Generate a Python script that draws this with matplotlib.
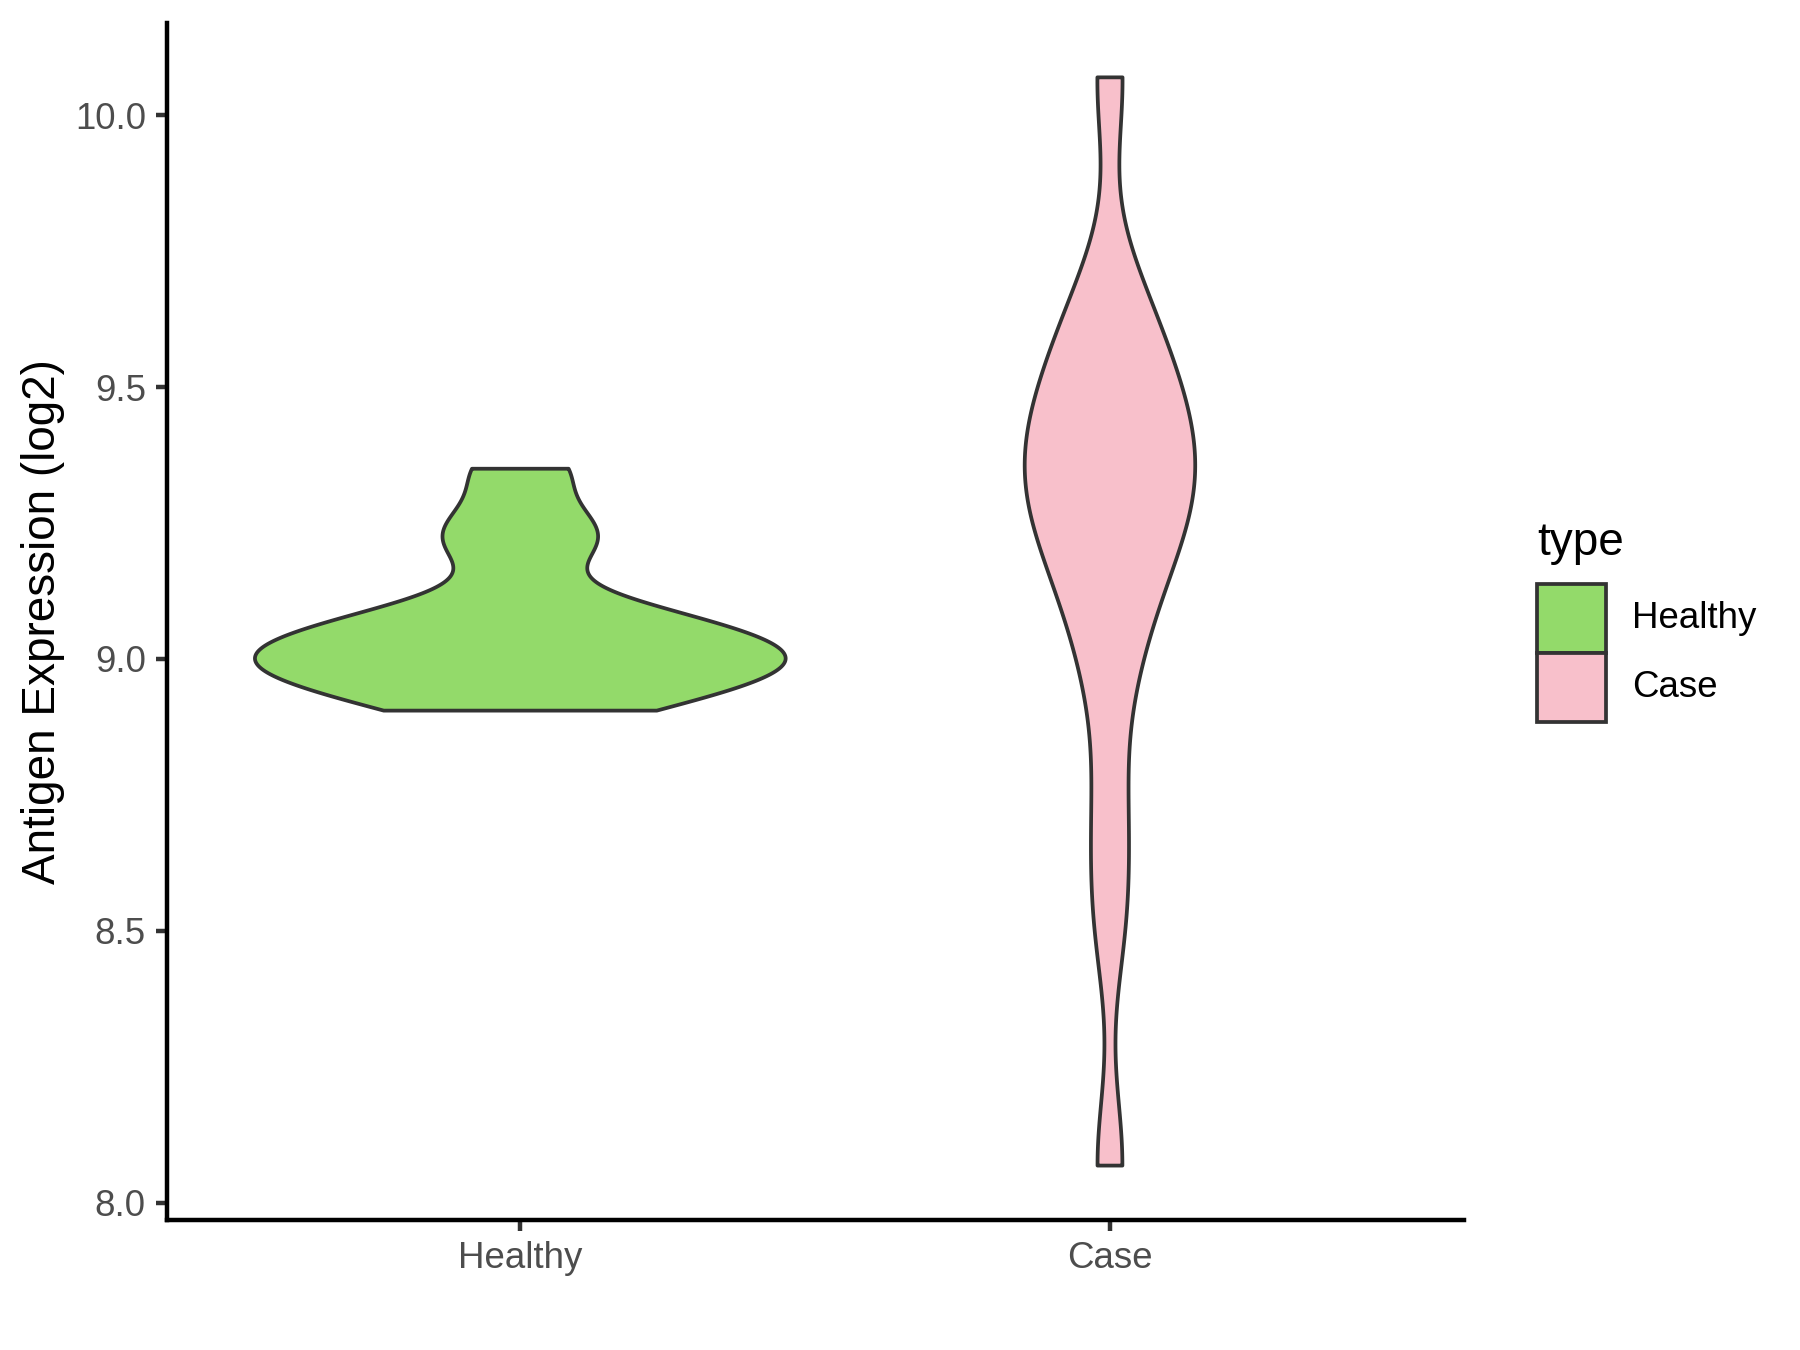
import numpy as np
import matplotlib
matplotlib.use("Agg")
import matplotlib.pyplot as plt
from matplotlib.patches import Rectangle

plt.rcParams['font.family'] = ['Liberation Sans', 'DejaVu Sans']

# data (log2 expression per sample)
groups = ["Healthy", "Case"]
healthy_vals = [8.905, 8.93, 8.955, 8.98, 9.0, 9.0, 9.02, 9.045, 9.07, 9.09,
                9.20, 9.25, 9.35]
case_vals = [8.068, 8.52, 8.72, 8.96, 9.08, 9.17, 9.22, 9.27, 9.31, 9.35,
             9.39, 9.43, 9.47, 9.54, 9.60, 9.68, 10.07]
bandwidths = [0.05, 0.13]
fills = ["#93DA6A", "#F8C0CB"]
yticks = [8.0, 8.5, 9.0, 9.5, 10.0]
ytick_labels = ["8.0", "8.5", "9.0", "9.5", "10.0"]


def kde(values, bw, n=512):
    v = np.asarray(values, dtype=float)
    grid = np.linspace(v.min(), v.max(), n)
    z = (grid[:, None] - v[None, :]) / bw
    dens = np.exp(-0.5 * z ** 2).sum(axis=1) / (len(v) * bw * np.sqrt(2 * np.pi))
    return grid, dens


fig = plt.figure(figsize=(6, 4.5), dpi=300)
ax = fig.add_axes([0.0925, 0.0963, 0.7207, 0.8867])

curves = [kde(vals, bw) for vals, bw in zip([healthy_vals, case_vals], bandwidths)]
dmax = max(d.max() for _, d in curves)

for i, ((grid, dens), col) in enumerate(zip(curves, fills)):
    pos = i + 1
    w = dens / dmax * 0.45
    xs = np.concatenate([pos - w, (pos + w)[::-1]])
    ys = np.concatenate([grid, grid[::-1]])
    ax.fill(xs, ys, facecolor=col, edgecolor="#333333", linewidth=0.9,
            joinstyle="round", zorder=2)

allv = np.array(healthy_vals + case_vals)
rng = allv.max() - allv.min()
ax.set_ylim(allv.min() - 0.05 * rng, allv.max() + 0.05 * rng)
ax.set_xlim(0.4, 2.6)

ax.set_xticks([1, 2])
ax.set_xticklabels(groups)
ax.set_yticks(yticks)
ax.set_yticklabels(ytick_labels)

for side in ["top", "right"]:
    ax.spines[side].set_visible(False)
for side in ["left", "bottom"]:
    ax.spines[side].set_linewidth(1.07)
    ax.spines[side].set_color("black")

ax.tick_params(axis="both", direction="out", length=2.75, width=1.07,
               color="#333333", pad=2.2, labelsize=8.8, labelcolor="#4D4D4D")

fig.text(43 / 1800, 0.5396, "Antigen Expression (log2)", rotation=90,
         ha="center", va="center", fontsize=11, color="black")

# legend
fig.text(1537 / 1800, 1 - 555 / 1350, "type", fontsize=11, ha="left",
         va="baseline", color="black")
key_tops = [584, 653]
for lab, col, top in zip(groups, fills, key_tops):
    fig.add_artist(Rectangle((1537 / 1800, 1 - (top + 69) / 1350), 69 / 1800, 69 / 1350,
                             transform=fig.transFigure, facecolor=col,
                             edgecolor="#333333", linewidth=0.9))
    fig.text(1632 / 1800, 1 - (top + 34.5) / 1350, lab, fontsize=8.8,
             ha="left", va="center", color="black")

fig.savefig("out.png", dpi=300, facecolor="white")
